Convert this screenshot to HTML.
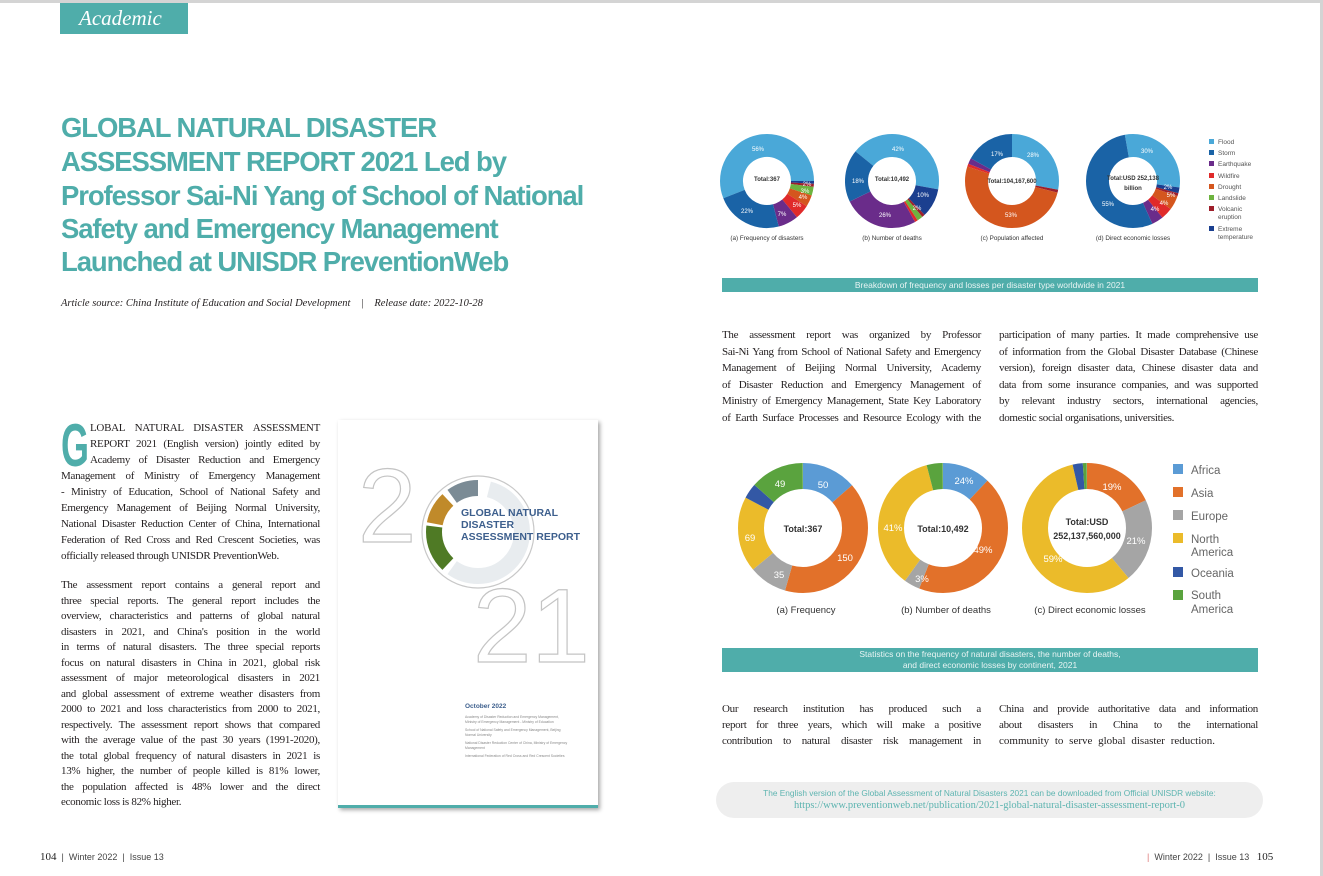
<!DOCTYPE html>
<html><head><meta charset="utf-8"><style>
*{margin:0;padding:0;box-sizing:border-box}
body{width:1323px;height:876px;position:relative;background:#fff;overflow:hidden;font-family:"Liberation Serif",serif;color:#231f20}
.a{position:absolute}
.ln{position:absolute;white-space:nowrap;text-align:justify;text-align-last:justify;font-size:11px;letter-spacing:-0.3px;line-height:14px}
.ln.l{text-align-last:left}
.tt{position:absolute;left:61px;font-family:"Liberation Sans",sans-serif;font-weight:bold;font-size:27.5px;color:#4fadaa;letter-spacing:-1.1px;white-space:nowrap;line-height:32px}
.sans{font-family:"Liberation Sans",sans-serif}
</style></head><body>
<div class="a" style="left:0;top:0;width:1323px;height:3px;background:#d4d4d4"></div>
<div class="a" style="left:1320px;top:0;width:3px;height:876px;background:#d4d4d4"></div>
<div class="a" style="left:60px;top:3px;width:128px;height:31px;background:#4fadaa;color:#fff;font-style:italic;font-size:21px;line-height:31px;padding-left:19px">Academic</div>

<div class="tt" style="top:112px">GLOBAL NATURAL DISASTER</div>
<div class="tt" style="top:146px">ASSESSMENT REPORT 2021 Led by</div>
<div class="tt" style="top:180px">Professor Sai-Ni Yang of School of National</div>
<div class="tt" style="top:213px">Safety and Emergency Management</div>
<div class="tt" style="top:246px">Launched at UNISDR PreventionWeb</div>

<div class="a" style="left:61px;top:298px;font-size:10.5px;font-style:italic;white-space:nowrap">Article source: China Institute of Education and Social Development &nbsp;&nbsp; | &nbsp;&nbsp; Release date: 2022-10-28</div>

<div class="a" style="left:61px;top:416px;font-size:60px;line-height:60px;color:#4fadaa;font-weight:bold;font-family:'Liberation Sans',sans-serif;transform:scaleX(0.6);transform-origin:left top">G</div>
<div class="ln" style="left:90px;width:230px;top:421px">LOBAL NATURAL DISASTER ASSESSMENT</div>
<div class="ln" style="left:90px;width:230px;top:437px">REPORT 2021 (English version) jointly edited by</div>
<div class="ln" style="left:90px;width:230px;top:453px">Academy of Disaster Reduction and Emergency</div>
<div class="ln" style="left:61px;width:259px;top:469px">Management of Ministry of Emergency Management</div>
<div class="ln" style="left:61px;width:259px;top:485px">- Ministry of Education, School of National Safety and</div>
<div class="ln" style="left:61px;width:259px;top:501px">Emergency Management of Beijing Normal University,</div>
<div class="ln" style="left:61px;width:259px;top:517px">National Disaster Reduction Center of China, International</div>
<div class="ln" style="left:61px;width:259px;top:533px">Federation of Red Cross and Red Crescent Societies, was</div>
<div class="ln l" style="left:61px;width:259px;top:549px">officially released through UNISDR PreventionWeb.</div>

<div class="ln" style="left:61px;width:259px;top:578px">The assessment report contains a general report and</div>
<div class="ln" style="left:61px;width:259px;top:593.5px">three special reports. The general report includes the</div>
<div class="ln" style="left:61px;width:259px;top:609px">overview, characteristics and patterns of global natural</div>
<div class="ln" style="left:61px;width:259px;top:624.5px">disasters in 2021, and China's position in the world</div>
<div class="ln" style="left:61px;width:259px;top:640px">in terms of natural disasters. The three special reports</div>
<div class="ln" style="left:61px;width:259px;top:655.5px">focus on natural disasters in China in 2021, global risk</div>
<div class="ln" style="left:61px;width:259px;top:671px">assessment of major meteorological disasters in 2021</div>
<div class="ln" style="left:61px;width:259px;top:686.5px">and global assessment of extreme weather disasters from</div>
<div class="ln" style="left:61px;width:259px;top:702px">2000 to 2021 and loss characteristics from 2000 to 2021,</div>
<div class="ln" style="left:61px;width:259px;top:717.5px">respectively. The assessment report shows that compared</div>
<div class="ln" style="left:61px;width:259px;top:733px">with the average value of the past 30 years (1991-2020),</div>
<div class="ln" style="left:61px;width:259px;top:748.5px">the total global frequency of natural disasters in 2021 is</div>
<div class="ln" style="left:61px;width:259px;top:764px">13% higher, the number of people killed is 81% lower,</div>
<div class="ln" style="left:61px;width:259px;top:779.5px">the population affected is 48% lower and the direct</div>
<div class="ln l" style="left:61px;width:259px;top:795px">economic loss is 82% higher.</div>

<div class="a" style="left:338px;top:420px;width:260px;height:388px;background:#fff;box-shadow:2px 2px 4px rgba(0,0,0,.35)">
<svg width="260" height="388" style="position:absolute;left:0;top:0">
<text x="20" y="122" font-family="Liberation Sans" font-size="105" fill="none" stroke="#c4c4c4" stroke-width="1.2">2</text>
<circle cx="140" cy="112" r="56" fill="none" stroke="#c8c8c8" stroke-width="1.2"/>
<g transform="rotate(-90 140 112)" fill="none" stroke-width="16">
<circle cx="140" cy="112" r="44" pathLength="100" stroke="#7b8b95" stroke-dasharray="14 100" stroke-dashoffset="-90"/>
<circle cx="140" cy="112" r="44" pathLength="100" stroke="#c08a2a" stroke-dasharray="10 100" stroke-dashoffset="-78"/>
<circle cx="140" cy="112" r="44" pathLength="100" stroke="#4f7a25" stroke-dasharray="15 100" stroke-dashoffset="-62"/>
<circle cx="140" cy="112" r="44" pathLength="100" stroke="#e8ecef" stroke-dasharray="56 100" stroke-dashoffset="-4"/>
</g>
<text x="135" y="242" font-family="Liberation Sans" font-size="105" fill="none" stroke="#c4c4c4" stroke-width="1.2">21</text>
<text x="123" y="96" font-family="Liberation Sans" font-weight="bold" font-size="10.5" fill="#3d5f8d">GLOBAL NATURAL</text>
<text x="123" y="108" font-family="Liberation Sans" font-weight="bold" font-size="10.5" fill="#3d5f8d">DISASTER</text>
<text x="123" y="120" font-family="Liberation Sans" font-weight="bold" font-size="10.5" fill="#3d5f8d">ASSESSMENT REPORT</text>
<text x="127" y="288" font-family="Liberation Sans" font-weight="bold" font-size="6.5" fill="#3d5f8d">October 2022</text>
<g font-family="Liberation Sans" font-size="3.4" fill="#888">
<text x="127" y="298">Academy of Disaster Reduction and Emergency Management,</text>
<text x="127" y="303">Ministry of Emergency Management - Ministry of Education</text>
<text x="127" y="311">School of National Safety and Emergency Management, Beijing</text>
<text x="127" y="316">Normal University</text>
<text x="127" y="324">National Disaster Reduction Center of China, Ministry of Emergency</text>
<text x="127" y="329">Management</text>
<text x="127" y="337">International Federation of Red Cross and Red Crescent Societies</text>
</g>
<rect x="0" y="385" width="260" height="3" fill="#4fadaa"/>
</svg></div>

<div class="a sans" style="left:40px;top:851px;font-size:9px;color:#444;white-space:nowrap"><span style="font-family:'Liberation Serif';font-size:11px;color:#222">104</span> &nbsp;| &nbsp;Winter 2022 &nbsp;| &nbsp;Issue 13</div>
<div class="a sans" style="left:1147px;top:851px;font-size:9px;color:#444;white-space:nowrap"><span style="color:#d77">|</span> &nbsp;Winter 2022 &nbsp;| &nbsp;Issue 13 &nbsp;&nbsp;<span style="font-family:'Liberation Serif';font-size:11px;color:#222">105</span></div>

<svg class="a" style="left:0;top:0" width="1323" height="876">
<g fill="none" stroke-width="23">
<g transform="rotate(-201.6 767 181)">
<circle cx="767" cy="181" r="35.5" pathLength="100" stroke="#4aa8d8" stroke-dasharray="56 100" stroke-dashoffset="0"/>
<circle cx="767" cy="181" r="35.5" pathLength="100" stroke="#1b3f8f" stroke-dasharray="1 100" stroke-dashoffset="-56"/>
<circle cx="767" cy="181" r="35.5" pathLength="100" stroke="#9e1f2b" stroke-dasharray="1 100" stroke-dashoffset="-57"/>
<circle cx="767" cy="181" r="35.5" pathLength="100" stroke="#6db33f" stroke-dasharray="3 100" stroke-dashoffset="-58"/>
<circle cx="767" cy="181" r="35.5" pathLength="100" stroke="#d4561e" stroke-dasharray="4 100" stroke-dashoffset="-61"/>
<circle cx="767" cy="181" r="35.5" pathLength="100" stroke="#e02a2a" stroke-dasharray="5 100" stroke-dashoffset="-65"/>
<circle cx="767" cy="181" r="35.5" pathLength="100" stroke="#6a2c8a" stroke-dasharray="7 100" stroke-dashoffset="-70"/>
<circle cx="767" cy="181" r="35.5" pathLength="100" stroke="#1a63a6" stroke-dasharray="23 100" stroke-dashoffset="-77"/>
</g>
<g transform="rotate(-141 892 181)">
<circle cx="892" cy="181" r="35.5" pathLength="100" stroke="#4aa8d8" stroke-dasharray="42 100" stroke-dashoffset="0"/>
<circle cx="892" cy="181" r="35.5" pathLength="100" stroke="#1b3f8f" stroke-dasharray="10 100" stroke-dashoffset="-42"/>
<circle cx="892" cy="181" r="35.5" pathLength="100" stroke="#9e1f2b" stroke-dasharray="1 100" stroke-dashoffset="-52"/>
<circle cx="892" cy="181" r="35.5" pathLength="100" stroke="#6db33f" stroke-dasharray="2 100" stroke-dashoffset="-53"/>
<circle cx="892" cy="181" r="35.5" pathLength="100" stroke="#e02a2a" stroke-dasharray="1 100" stroke-dashoffset="-55"/>
<circle cx="892" cy="181" r="35.5" pathLength="100" stroke="#6a2c8a" stroke-dasharray="26 100" stroke-dashoffset="-56"/>
<circle cx="892" cy="181" r="35.5" pathLength="100" stroke="#1a63a6" stroke-dasharray="18 100" stroke-dashoffset="-82"/>
</g>
<g transform="rotate(-90 1012 181)">
<circle cx="1012" cy="181" r="35.5" pathLength="100" stroke="#4aa8d8" stroke-dasharray="28 100" stroke-dashoffset="0"/>
<circle cx="1012" cy="181" r="35.5" pathLength="100" stroke="#9e1f2b" stroke-dasharray="1 100" stroke-dashoffset="-28"/>
<circle cx="1012" cy="181" r="35.5" pathLength="100" stroke="#d4561e" stroke-dasharray="51 100" stroke-dashoffset="-29"/>
<circle cx="1012" cy="181" r="35.5" pathLength="100" stroke="#e02a2a" stroke-dasharray="1 100" stroke-dashoffset="-80"/>
<circle cx="1012" cy="181" r="35.5" pathLength="100" stroke="#6a2c8a" stroke-dasharray="2 100" stroke-dashoffset="-81"/>
<circle cx="1012" cy="181" r="35.5" pathLength="100" stroke="#1a63a6" stroke-dasharray="17 100" stroke-dashoffset="-83"/>
</g>
<g transform="rotate(-100 1133 181)">
<circle cx="1133" cy="181" r="35.5" pathLength="100" stroke="#4aa8d8" stroke-dasharray="30 100" stroke-dashoffset="0"/>
<circle cx="1133" cy="181" r="35.5" pathLength="100" stroke="#1b3f8f" stroke-dasharray="2 100" stroke-dashoffset="-30"/>
<circle cx="1133" cy="181" r="35.5" pathLength="100" stroke="#9e1f2b" stroke-dasharray="1 100" stroke-dashoffset="-32"/>
<circle cx="1133" cy="181" r="35.5" pathLength="100" stroke="#d4561e" stroke-dasharray="5 100" stroke-dashoffset="-33"/>
<circle cx="1133" cy="181" r="35.5" pathLength="100" stroke="#e02a2a" stroke-dasharray="4 100" stroke-dashoffset="-38"/>
<circle cx="1133" cy="181" r="35.5" pathLength="100" stroke="#6a2c8a" stroke-dasharray="4 100" stroke-dashoffset="-42"/>
<circle cx="1133" cy="181" r="35.5" pathLength="100" stroke="#1a63a6" stroke-dasharray="54 100" stroke-dashoffset="-46"/>
</g>
</g>
<g font-family="Liberation Sans" font-size="6" fill="#fff" text-anchor="middle">
<text x="758" y="151">56%</text><text x="747" y="213">22%</text><text x="782" y="216">7%</text><text x="797" y="207">5%</text><text x="803" y="199">4%</text><text x="805" y="193">3%</text><text x="807" y="186">2%</text>
<text x="898" y="151">42%</text><text x="858" y="183">18%</text><text x="885" y="217">26%</text><text x="923" y="197">10%</text><text x="917" y="210">2%</text>
<text x="1033" y="157">28%</text><text x="997" y="156">17%</text><text x="1011" y="217">53%</text>
<text x="1147" y="153">30%</text><text x="1108" y="206">55%</text><text x="1168" y="189">2%</text><text x="1171" y="197">5%</text><text x="1164" y="205">4%</text><text x="1155" y="211">4%</text>
</g>
<g font-family="Liberation Sans" font-size="6" fill="#333" text-anchor="middle" font-weight="bold">
<text x="767" y="181">Total:367</text><text x="892" y="181">Total:10,492</text><text x="1012" y="183">Total:104,167,600</text><text x="1133" y="180">Total:USD 252,138</text><text x="1133" y="190">billion</text>
</g>
<g font-family="Liberation Sans" font-size="6.3" fill="#333" text-anchor="middle">
<text x="767" y="240">(a) Frequency of disasters</text><text x="892" y="240">(b) Number of deaths</text><text x="1012" y="240">(c) Population affected</text><text x="1133" y="240">(d) Direct economic losses</text>
</g>
<g font-family="Liberation Sans" font-size="6.5" fill="#555">
<rect x="1209" y="139" width="5" height="5" fill="#4aa8d8"/><text x="1218" y="144">Flood</text>
<rect x="1209" y="150" width="5" height="5" fill="#1a63a6"/><text x="1218" y="155">Storm</text>
<rect x="1209" y="161" width="5" height="5" fill="#6a2c8a"/><text x="1218" y="166">Earthquake</text>
<rect x="1209" y="173" width="5" height="5" fill="#e02a2a"/><text x="1218" y="178">Wildfire</text>
<rect x="1209" y="184" width="5" height="5" fill="#d4561e"/><text x="1218" y="189">Drought</text>
<rect x="1209" y="195" width="5" height="5" fill="#6db33f"/><text x="1218" y="200">Landslide</text>
<rect x="1209" y="206" width="5" height="5" fill="#9e1f2b"/><text x="1218" y="211">Volcanic</text><text x="1218" y="219">eruption</text>
<rect x="1209" y="226" width="5" height="5" fill="#1b3f8f"/><text x="1218" y="231">Extreme</text><text x="1218" y="239">temperature</text>
</g>

<g fill="none" stroke-width="26">
<g transform="rotate(-90 803 528)">
<circle cx="803" cy="528" r="52" pathLength="100" stroke="#5b9bd5" stroke-dasharray="13.6 100" stroke-dashoffset="0"/>
<circle cx="803" cy="528" r="52" pathLength="100" stroke="#e2712a" stroke-dasharray="40.9 100" stroke-dashoffset="-13.6"/>
<circle cx="803" cy="528" r="52" pathLength="100" stroke="#a5a5a5" stroke-dasharray="9.5 100" stroke-dashoffset="-54.5"/>
<circle cx="803" cy="528" r="52" pathLength="100" stroke="#ebbb2a" stroke-dasharray="18.8 100" stroke-dashoffset="-64"/>
<circle cx="803" cy="528" r="52" pathLength="100" stroke="#3358a5" stroke-dasharray="3.8 100" stroke-dashoffset="-82.8"/>
<circle cx="803" cy="528" r="52" pathLength="100" stroke="#5aa33e" stroke-dasharray="13.4 100" stroke-dashoffset="-86.6"/>
</g>
<g transform="rotate(-90 943 528)">
<circle cx="943" cy="528" r="52" pathLength="100" stroke="#5b9bd5" stroke-dasharray="12 100" stroke-dashoffset="0"/>
<circle cx="943" cy="528" r="52" pathLength="100" stroke="#e2712a" stroke-dasharray="44 100" stroke-dashoffset="-12"/>
<circle cx="943" cy="528" r="52" pathLength="100" stroke="#a5a5a5" stroke-dasharray="4 100" stroke-dashoffset="-56"/>
<circle cx="943" cy="528" r="52" pathLength="100" stroke="#ebbb2a" stroke-dasharray="36 100" stroke-dashoffset="-60"/>
<circle cx="943" cy="528" r="52" pathLength="100" stroke="#5aa33e" stroke-dasharray="4 100" stroke-dashoffset="-96"/>
</g>
<g transform="rotate(-90 1087 528)">
<circle cx="1087" cy="528" r="52" pathLength="100" stroke="#e2712a" stroke-dasharray="18 100" stroke-dashoffset="0"/>
<circle cx="1087" cy="528" r="52" pathLength="100" stroke="#a5a5a5" stroke-dasharray="21 100" stroke-dashoffset="-18"/>
<circle cx="1087" cy="528" r="52" pathLength="100" stroke="#ebbb2a" stroke-dasharray="57.5 100" stroke-dashoffset="-39"/>
<circle cx="1087" cy="528" r="52" pathLength="100" stroke="#3358a5" stroke-dasharray="2.5 100" stroke-dashoffset="-96.5"/>
<circle cx="1087" cy="528" r="52" pathLength="100" stroke="#5aa33e" stroke-dasharray="1 100" stroke-dashoffset="-99"/>
</g>
</g>
<g font-family="Liberation Sans" font-size="9.5" fill="#fff" text-anchor="middle">
<text x="823" y="488">50</text><text x="780" y="487">49</text><text x="750" y="541">69</text><text x="779" y="578">35</text><text x="845" y="561">150</text>
<text x="964" y="484">24%</text><text x="893" y="531">41%</text><text x="983" y="553">49%</text><text x="922" y="582">3%</text>
<text x="1112" y="490">19%</text><text x="1136" y="544">21%</text><text x="1053" y="562">59%</text>
</g>
<g font-family="Liberation Sans" font-size="9" fill="#333" text-anchor="middle" font-weight="bold">
<text x="803" y="532">Total:367</text><text x="943" y="532">Total:10,492</text><text x="1087" y="525">Total:USD</text><text x="1087" y="539">252,137,560,000</text>
</g>
<g font-family="Liberation Sans" font-size="9.5" fill="#333" text-anchor="middle">
<text x="806" y="613">(a) Frequency</text><text x="946" y="613">(b) Number of deaths</text><text x="1090" y="613">(c) Direct economic losses</text>
</g>
<g font-family="Liberation Sans" font-size="11.5" fill="#666">
<rect x="1173" y="464" width="10" height="10" fill="#5b9bd5"/><text x="1191" y="474">Africa</text>
<rect x="1173" y="487" width="10" height="10" fill="#e2712a"/><text x="1191" y="497">Asia</text>
<rect x="1173" y="510" width="10" height="10" fill="#a5a5a5"/><text x="1191" y="520">Europe</text>
<rect x="1173" y="533" width="10" height="10" fill="#ebbb2a"/><text x="1191" y="543">North</text><text x="1191" y="556">America</text>
<rect x="1173" y="567" width="10" height="10" fill="#3358a5"/><text x="1191" y="577">Oceania</text>
<rect x="1173" y="590" width="10" height="10" fill="#5aa33e"/><text x="1191" y="599">South</text><text x="1191" y="613">America</text>
</g>
</svg>

<div class="a sans" style="left:722px;top:278px;width:536px;height:14px;background:#4fadaa;color:#e8f4f3;font-size:8.5px;line-height:14px;text-align:center">Breakdown of frequency and losses per disaster type worldwide in 2021</div>
<div class="a sans" style="left:722px;top:648px;width:536px;height:24px;background:#4fadaa;color:#e8f4f3;font-size:8.5px;line-height:11px;text-align:center;padding-top:1px">Statistics on the frequency of natural disasters, the number of deaths,<br>and direct economic losses by continent, 2021</div>

<div class="ln" style="left:722px;width:259px;top:328px">The assessment report was organized by Professor</div>
<div class="ln" style="left:722px;width:259px;top:344.5px">Sai-Ni Yang from School of National Safety and Emergency</div>
<div class="ln" style="left:722px;width:259px;top:361px">Management of Beijing Normal University, Academy</div>
<div class="ln" style="left:722px;width:259px;top:377.5px">of Disaster Reduction and Emergency Management of</div>
<div class="ln" style="left:722px;width:259px;top:394px">Ministry of Emergency Management, State Key Laboratory</div>
<div class="ln" style="left:722px;width:259px;top:410.5px">of Earth Surface Processes and Resource Ecology with the</div>
<div class="ln" style="left:999px;width:259px;top:328px">participation of many parties. It made comprehensive use</div>
<div class="ln" style="left:999px;width:259px;top:344.5px">of information from the Global Disaster Database (Chinese</div>
<div class="ln" style="left:999px;width:259px;top:361px">version), foreign disaster data, Chinese disaster data and</div>
<div class="ln" style="left:999px;width:259px;top:377.5px">data from some insurance companies, and was supported</div>
<div class="ln" style="left:999px;width:259px;top:394px">by relevant industry sectors, international agencies,</div>
<div class="ln l" style="left:999px;width:259px;top:410.5px">domestic social organisations, universities.</div>

<div class="ln" style="left:722px;width:259px;top:702px">Our research institution has produced such a</div>
<div class="ln" style="left:722px;width:259px;top:718px">report for three years, which will make a positive</div>
<div class="ln" style="left:722px;width:259px;top:734px">contribution to natural disaster risk management in</div>
<div class="ln" style="left:999px;width:259px;top:702px">China and provide authoritative data and information</div>
<div class="ln" style="left:999px;width:259px;top:718px">about disasters in China to the international</div>
<div class="ln l" style="left:999px;width:259px;top:734px;letter-spacing:0px;word-spacing:3px">community to serve global disaster reduction.</div>

<div class="a" style="left:716px;top:782px;width:547px;height:36px;background:#eeeeee;border-radius:18px;text-align:center;color:#5db4b0">
<div class="sans" style="font-size:8.3px;margin-top:6px;line-height:11px">The English version of the Global Assessment of Natural Disasters 2021 can be downloaded from Official UNISDR website:</div>
<div style="font-size:10.5px;line-height:14px">https://www.preventionweb.net/publication/2021-global-natural-disaster-assessment-report-0</div>
</div>
</body></html>
